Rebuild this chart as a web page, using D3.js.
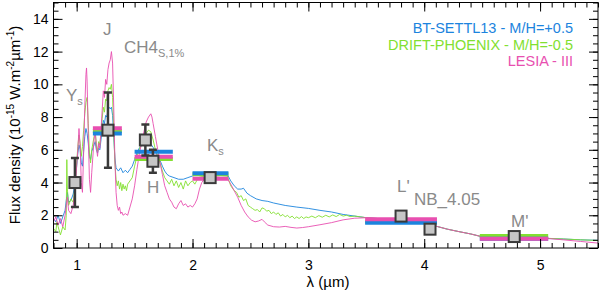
<!DOCTYPE html>
<html>
<head>
<meta charset="utf-8">
<script src="https://cdn.jsdelivr.net/npm/d3@7"></script>
<title>Flux density</title>
<style>
body { margin: 0; background: #fff; }
text { font-family: "Liberation Sans", Arial, Helvetica, sans-serif; }
</style>
</head>
<body>
<script>

// model spectra [lambda (um), flux]
var settl = [[0.80,1.8],[0.82,1.6],[0.84,2.0],[0.86,1.5],[0.88,1.9],[0.90,2.3],[0.91,2.9],[0.92,3.4],[0.93,2.8],[0.95,2.9],[0.97,3.3],[0.99,4.2],[1.00,5.0],[1.01,5.8],[1.02,6.3],[1.03,6.0],[1.04,5.2],[1.05,5.0],[1.06,5.9],[1.07,6.8],[1.08,7.3],[1.09,7.0],[1.10,6.4],[1.11,5.6],[1.12,5.4],[1.13,5.9],[1.15,6.3],[1.16,6.5],[1.17,6.0],[1.18,5.8],[1.19,6.1],[1.20,6.0],[1.21,6.6],[1.22,7.2],[1.23,7.8],[1.24,7.6],[1.25,8.1],[1.26,8.0],[1.27,8.4],[1.28,8.6],[1.29,8.5],[1.30,8.6],[1.31,8.1],[1.32,6.8],[1.33,5.5],[1.34,4.9],[1.36,4.7],[1.38,4.9],[1.40,4.6],[1.42,4.75],[1.44,4.6],[1.46,4.8],[1.48,5.0],[1.50,5.4],[1.52,5.8],[1.54,6.1],[1.56,6.25],[1.58,6.4],[1.60,6.5],[1.62,6.45],[1.64,6.35],[1.66,6.15],[1.68,5.9],[1.70,5.6],[1.72,5.35],[1.74,5.0],[1.76,4.7],[1.78,4.5],[1.80,4.4],[1.84,4.3],[1.88,4.2],[1.92,4.2],[1.96,4.3],[2.00,4.4],[2.05,4.5],[2.10,4.6],[2.20,4.6],[2.30,4.5],[2.33,4.1],[2.36,3.8],[2.39,3.6],[2.42,3.6],[2.44,3.65],[2.47,3.35],[2.50,3.2],[2.55,3.0],[2.60,2.9],[2.65,2.85],[2.70,2.75],[2.80,2.6],[2.90,2.5],[3.00,2.42],[3.10,2.3],[3.20,2.2],[3.30,2.05],[3.40,1.95],[3.50,1.85],[3.60,1.8],[3.70,1.75],[3.80,1.7],[3.90,1.6],[4.00,1.5],[4.05,1.45],[4.12,1.3],[4.20,1.15],[4.30,1.0],[4.40,0.86],[4.48,0.72],[4.60,0.68],[4.80,0.64],[5.00,0.6],[5.07,0.58],[5.20,0.55],[5.35,0.5],[5.50,0.47]];

var drift = [[0.80,1.2],[0.82,1.0],[0.83,1.6],[0.84,1.3],[0.86,0.8],[0.88,1.3],[0.90,1.1],[0.91,2.0],[0.915,5.4],[0.92,3.6],[0.93,2.6],[0.95,3.0],[0.97,2.8],[0.99,4.0],[1.00,5.2],[1.01,6.2],[1.02,6.9],[1.03,6.4],[1.04,5.6],[1.05,6.2],[1.06,7.2],[1.07,8.2],[1.08,8.9],[1.09,9.2],[1.10,7.6],[1.11,5.8],[1.12,5.2],[1.13,6.0],[1.15,6.8],[1.16,7.1],[1.17,6.3],[1.18,5.9],[1.19,6.5],[1.20,6.3],[1.21,7.1],[1.22,7.9],[1.23,8.6],[1.24,8.3],[1.25,9.1],[1.26,9.0],[1.27,9.6],[1.28,9.8],[1.29,9.7],[1.30,10.0],[1.31,9.2],[1.32,7.2],[1.33,5.2],[1.34,4.2],[1.35,3.8],[1.36,4.1],[1.37,3.6],[1.38,4.0],[1.39,3.5],[1.40,3.9],[1.41,3.6],[1.42,3.8],[1.43,3.5],[1.44,3.9],[1.46,4.1],[1.48,4.3],[1.50,5.0],[1.52,5.6],[1.54,6.0],[1.56,6.4],[1.58,6.7],[1.60,7.0],[1.62,7.2],[1.64,7.1],[1.66,6.6],[1.68,6.0],[1.70,5.6],[1.72,5.2],[1.74,4.7],[1.76,4.3],[1.78,4.1],[1.80,3.9],[1.82,4.2],[1.84,3.8],[1.86,4.1],[1.88,3.7],[1.90,4.0],[1.92,3.6],[1.94,4.1],[1.96,3.8],[1.98,4.0],[2.00,4.1],[2.02,3.9],[2.05,4.3],[2.10,4.4],[2.20,4.45],[2.30,4.4],[2.33,3.8],[2.36,3.5],[2.38,3.4],[2.40,3.1],[2.42,3.2],[2.44,2.9],[2.46,3.0],[2.48,2.6],[2.50,2.5],[2.52,2.4],[2.54,2.3],[2.56,2.35],[2.58,2.2],[2.60,2.45],[2.62,2.4],[2.64,2.25],[2.66,2.3],[2.68,2.1],[2.70,2.2],[2.72,2.05],[2.74,2.15],[2.76,1.95],[2.78,2.05],[2.80,1.9],[2.82,2.0],[2.84,1.85],[2.86,1.95],[2.88,1.8],[2.90,1.9],[2.92,1.8],[2.94,1.92],[2.96,1.8],[2.98,1.9],[3.00,1.85],[3.03,1.95],[3.06,1.85],[3.09,1.98],[3.12,1.88],[3.15,2.0],[3.18,1.9],[3.21,2.02],[3.24,1.92],[3.27,2.05],[3.30,1.95],[3.33,2.0],[3.36,1.92],[3.40,1.95],[3.45,1.9],[3.50,1.85],[3.60,1.8],[3.70,1.75],[3.80,1.7],[3.90,1.6],[4.00,1.5],[4.05,1.45],[4.12,1.3],[4.20,1.15],[4.30,1.0],[4.40,0.86],[4.48,0.72],[4.60,0.69],[4.80,0.65],[5.00,0.61],[5.07,0.59],[5.20,0.55],[5.35,0.5],[5.50,0.46]];

var lesia = [[0.80,1.6],[0.82,1.9],[0.84,1.4],[0.86,1.8],[0.88,1.3],[0.90,2.0],[0.91,2.6],[0.92,3.1],[0.93,2.3],[0.95,2.1],[0.97,2.6],[0.99,3.8],[1.00,5.0],[1.01,6.0],[1.02,7.3],[1.03,6.2],[1.04,4.0],[1.05,3.4],[1.06,5.8],[1.07,8.6],[1.08,10.6],[1.085,11.0],[1.09,10.2],[1.10,7.0],[1.11,4.2],[1.12,3.4],[1.13,4.6],[1.15,6.6],[1.16,7.2],[1.17,6.2],[1.18,5.6],[1.19,6.4],[1.20,6.1],[1.21,7.2],[1.22,8.4],[1.23,9.6],[1.24,9.2],[1.25,10.3],[1.26,10.0],[1.27,10.9],[1.28,11.3],[1.29,11.5],[1.30,12.0],[1.31,11.3],[1.32,8.6],[1.33,5.4],[1.34,3.4],[1.35,2.6],[1.36,2.3],[1.37,2.5],[1.38,2.1],[1.39,2.2],[1.40,2.0],[1.42,2.1],[1.44,2.0],[1.46,2.5],[1.48,3.0],[1.50,3.8],[1.52,4.8],[1.54,5.7],[1.56,6.4],[1.58,7.1],[1.60,7.7],[1.62,8.0],[1.64,8.2],[1.65,8.0],[1.66,7.6],[1.68,6.8],[1.70,6.0],[1.72,5.2],[1.74,4.5],[1.76,3.8],[1.78,3.4],[1.80,3.0],[1.82,2.8],[1.84,2.5],[1.86,2.4],[1.88,2.7],[1.90,2.9],[1.92,2.6],[1.94,2.7],[1.96,2.5],[1.98,2.6],[2.00,2.5],[2.02,2.7],[2.04,3.0],[2.06,3.6],[2.08,4.0],[2.10,4.2],[2.15,4.3],[2.20,4.35],[2.25,4.3],[2.30,4.25],[2.33,3.9],[2.36,3.5],[2.39,3.1],[2.42,2.6],[2.45,2.2],[2.48,1.9],[2.51,1.7],[2.54,1.6],[2.57,1.65],[2.60,1.75],[2.62,1.6],[2.65,1.4],[2.70,1.3],[2.75,1.28],[2.80,1.32],[2.85,1.26],[2.90,1.22],[2.95,1.25],[3.00,1.3],[3.10,1.42],[3.20,1.55],[3.30,1.72],[3.40,1.82],[3.50,1.85],[3.60,1.8],[3.70,1.77],[3.80,1.72],[3.90,1.6],[4.00,1.5],[4.05,1.45],[4.12,1.3],[4.20,1.15],[4.30,1.0],[4.40,0.86],[4.48,0.72],[4.60,0.68],[4.80,0.64],[5.00,0.6],[5.07,0.58],[5.20,0.5],[5.35,0.4],[5.50,0.3]];

// synthetic photometry of the models over each filter
var barLo = [1.14, 1.50, 2.00, 3.49, 4.48];
var barHi = [1.39, 1.83, 2.31, 4.11, 5.07];
var settlBar = [7.0, 5.88, 4.56, 1.55, 0.57];
var driftBar = [7.15, 5.44, 4.5, 1.6, 0.73];
var lesiaBar = [7.31, 5.58, 4.23, 1.75, 0.57];

// measured photometry
var ptLam = [0.985, 1.27, 1.593, 1.658, 2.152, 3.80, 4.05, 4.777];
var ptFlux = [4.0, 7.2, 6.6, 5.3, 4.3, 1.95, 1.15, 0.7];
var ptErr = [1.5, 2.3, 0.95, 0.7, 0.2, 0, 0, 0];

var legendNames = ["BT-SETTL13 - M/H=+0.5", "DRIFT-PHOENIX - M/H=-0.5", "LESIA - III"];
var colors = ["#1c84de", "#82e030", "#e84fb0"];
var xTicks = [1, 2, 3, 4, 5];
var yTicks = [0, 2, 4, 6, 8, 10, 12, 14];

var width = 600,
    height = 296;

var svg = d3.select("body")
  .append("svg")
  .attr("width", width)
  .attr("height", height);

var x = d3.scaleLinear().domain([0.8, 5.5]).range([53.5, 598]);
var y = d3.scaleLinear().domain([0, 15]).range([248, 2.5]);

svg.append("clipPath").attr("id", "plot")
  .append("rect")
  .attr("x", x(0.8)).attr("y", y(15))
  .attr("width", x(5.5) - x(0.8)).attr("height", y(0) - y(15));

var line = d3.line()
  .x(function(d) { return x(d[0]); })
  .y(function(d) { return y(d[1]); });

var g = svg.append("g").attr("clip-path", "url(#plot)");

[settl, drift, lesia].forEach(function(s, i) {
  g.append("path")
    .datum(s)
    .attr("d", line)
    .attr("fill", "none")
    .attr("stroke", colors[i])
    .attr("stroke-width", 0.9);
});

// model bars: drift first, then settl, then lesia on top
[[driftBar, 1], [settlBar, 0], [lesiaBar, 2]].forEach(function(p) {
  g.selectAll(null)
    .data(p[0])
    .enter()
    .append("line")
    .attr("x1", function(d, i) { return x(barLo[i]); })
    .attr("x2", function(d, i) { return x(barHi[i]); })
    .attr("y1", function(d) { return y(d); })
    .attr("y2", function(d) { return y(d); })
    .attr("stroke", colors[p[1]])
    .attr("stroke-width", 4);
});

// error bars
var pts = g.selectAll(".pt")
  .data(ptLam)
  .enter()
  .append("g")
  .attr("class", "pt");

pts.filter(function(d, i) { return ptErr[i] > 0; })
  .each(function(d) {
    var i = ptLam.indexOf(d);
    var el = d3.select(this);
    var cx = x(d), y1 = y(ptFlux[i] + ptErr[i]), y2 = y(ptFlux[i] - ptErr[i]);
    el.append("line").attr("x1", cx).attr("x2", cx).attr("y1", y1).attr("y2", y2);
    el.append("line").attr("x1", cx - 4).attr("x2", cx + 4).attr("y1", y1).attr("y2", y1);
    el.append("line").attr("x1", cx - 4).attr("x2", cx + 4).attr("y1", y2).attr("y2", y2);
  })
  .selectAll("line")
  .attr("stroke", "#3a3a3a")
  .attr("stroke-width", 2.5);

pts.append("rect")
  .attr("x", function(d) { return x(d) - 5.5; })
  .attr("y", function(d, i) { return y(ptFlux[i]) - 5.5; })
  .attr("width", 11)
  .attr("height", 11)
  .attr("fill", "#c6c6c6")
  .attr("stroke", "#3a3a3a")
  .attr("stroke-width", 2);

// axes, ticks pointing inwards
function minor(step, lo, hi) {
  return d3.range(lo, hi + 1e-9, step).map(function(v) { return Math.round(v * 100) / 100; });
}
var xMinor = minor(0.1, 0.8, 5.5);
var yMinor = minor(0.5, 0, 15);

function styleAxis(sel) {
  sel.selectAll("text").style("font-family", "'Liberation Sans', Arial, sans-serif").style("font-size", "14px").attr("fill", "#000");
  sel.selectAll("line").attr("stroke", "#000");
  sel.select(".domain").remove();
}

svg.append("g").attr("transform", "translate(0," + y(0) + ")")
  .call(d3.axisBottom(x).tickValues(xTicks).tickSize(-9).tickPadding(12).tickFormat(d3.format("d")))
  .call(styleAxis);
svg.append("g").attr("transform", "translate(0," + y(0) + ")")
  .call(d3.axisBottom(x).tickValues(xMinor).tickSize(-5).tickFormat(""))
  .call(styleAxis);
svg.append("g").attr("transform", "translate(0," + y(15) + ")")
  .call(d3.axisTop(x).tickValues(xTicks).tickSize(-9).tickFormat(""))
  .call(styleAxis);
svg.append("g").attr("transform", "translate(0," + y(15) + ")")
  .call(d3.axisTop(x).tickValues(xMinor).tickSize(-5).tickFormat(""))
  .call(styleAxis);

svg.append("g").attr("transform", "translate(" + x(0.8) + ",0)")
  .call(d3.axisLeft(y).tickValues(yTicks).tickSize(-9).tickPadding(5).tickFormat(d3.format("d")))
  .call(styleAxis);
svg.append("g").attr("transform", "translate(" + x(0.8) + ",0)")
  .call(d3.axisLeft(y).tickValues(yMinor).tickSize(-5).tickFormat(""))
  .call(styleAxis);
svg.append("g").attr("transform", "translate(" + x(5.5) + ",0)")
  .call(d3.axisRight(y).tickValues(yTicks).tickSize(-9).tickFormat(""))
  .call(styleAxis);
svg.append("g").attr("transform", "translate(" + x(5.5) + ",0)")
  .call(d3.axisRight(y).tickValues(yMinor).tickSize(-5).tickFormat(""))
  .call(styleAxis);

svg.append("rect")
  .attr("x", x(0.8)).attr("y", y(15))
  .attr("width", x(5.5) - x(0.8)).attr("height", y(0) - y(15))
  .attr("fill", "none").attr("stroke", "#000").attr("stroke-width", 1);

// band labels
var labels = [
  { t: "Y", s: "s", x: 66, y: 101 },
  { t: "J", s: "", x: 103, y: 35 },
  { t: "CH4", s: "S,1%", x: 124, y: 53 },
  { t: "H", s: "", x: 147, y: 193 },
  { t: "K", s: "s", x: 207, y: 151 },
  { t: "L'", s: "", x: 397, y: 192 },
  { t: "NB_4.05", s: "", x: 414, y: 205 },
  { t: "M'", s: "", x: 511, y: 227 }
];
labels.forEach(function(l) {
  var t = svg.append("text")
    .attr("x", l.x).attr("y", l.y)
    .attr("fill", "#8a8a8a")
    .style("font-size", "17px")
    .text(l.t);
  if (l.s) {
    t.append("tspan").attr("dy", 4).style("font-size", "11px").text(l.s);
  }
});

// legend
legendNames.forEach(function(n, i) {
  svg.append("text")
    .attr("x", 573).attr("y", 33 + i * 16.5)
    .attr("text-anchor", "end")
    .attr("fill", colors[i])
    .style("font-size", "14.5px")
    .text(n);
});

// axis titles
svg.append("text")
  .attr("x", 328).attr("y", 287)
  .attr("text-anchor", "middle")
  .style("font-size", "15px")
  .text("λ (µm)");

var yt = svg.append("text")
  .attr("transform", "translate(20,125) rotate(-90)")
  .attr("text-anchor", "middle")
  .style("font-size", "15px");
yt.append("tspan").text("Flux density (10");
yt.append("tspan").attr("dy", -6).style("font-size", "10px").text("-15");
yt.append("tspan").attr("dy", 6).text(" W.m");
yt.append("tspan").attr("dy", -6).style("font-size", "10px").text("-2");
yt.append("tspan").attr("dy", 6).text("µm");
yt.append("tspan").attr("dy", -6).style("font-size", "10px").text("-1");
yt.append("tspan").attr("dy", 6).text(")");

</script>
</body>
</html>
